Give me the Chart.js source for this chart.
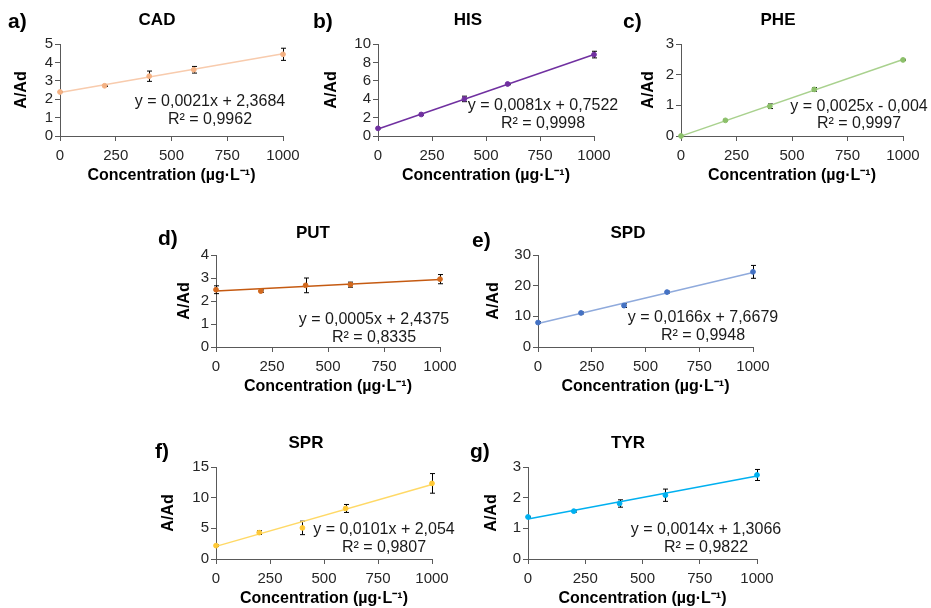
<!DOCTYPE html>
<html>
<head>
<meta charset="utf-8">
<script src="https://cdn.jsdelivr.net/npm/chart.js@4.4.1/dist/chart.umd.min.js"></script>
<style>
html, body { margin: 0; padding: 0; background: #fff; overflow: hidden; }
body { width: 931px; height: 608px; position: relative; }
canvas { position: absolute; }
</style>
</head>
<body>
<script>
// ---------------- 데이터 ---------------- //
// 농도 (µg·L-1)
const conc = [0, 200, 400, 600, 1000];
const xTicks = [0, 250, 500, 750, 1000];

// CAD
const cadY = [2.39, 2.73, 3.25, 3.6, 4.44];
const cadErr = [0.03, 0.04, 0.28, 0.18, 0.33];
const cadFit = [2.368, 4.468];
const cadTicks = [0, 1, 2, 3, 4, 5];
// HIS
const hisY = [0.83, 2.34, 4.03, 5.65, 8.85];
const hisErr = [0.05, 0.08, 0.3, 0.08, 0.36];
const hisFit = [0.752, 8.852];
const hisTicks = [0, 2, 4, 6, 8, 10];
// PHE
const pheY = [0, 0.51, 0.97, 1.52, 2.48];
const pheErr = [0, 0.02, 0.075, 0.06, 0.02];
const pheFit = [-0.004, 2.496];
const pheTicks = [0, 1, 2, 3];
// PUT
const putY = [2.49, 2.43, 2.68, 2.71, 2.95];
const putErr = [0.17, 0.05, 0.32, 0.11, 0.2];
const putFit = [2.438, 2.938];
const putTicks = [0, 1, 2, 3, 4];
// SPD
const spdY = [7.96, 11.1, 13.5, 17.9, 24.5];
const spdErr = [0.3, 0.3, 0.6, 0.3, 2.1];
const spdFit = [7.668, 24.268];
const spdTicks = [0, 10, 20, 30];
// SPR
const sprY = [2.18, 4.3, 5.07, 8.24, 12.33];
const sprErr = [0.1, 0.3, 1.1, 0.65, 1.6];
const sprFit = [2.054, 12.154];
const sprTicks = [0, 5, 10, 15];
// TYR
const tyrY = [1.37, 1.56, 1.81, 2.08, 2.74];
const tyrErr = [0.02, 0.03, 0.12, 0.2, 0.18];
const tyrFit = [1.307, 2.707];
const tyrTicks = [0, 1, 2, 3];

// 추세선 식
const cadEq = ['y = 0,0021x + 2,3684', 'R² = 0,9962'];
const hisEq = ['y = 0,0081x + 0,7522', 'R² = 0,9998'];
const pheEq = ['y = 0,0025x - 0,004', 'R² = 0,9997'];
const putEq = ['y = 0,0005x + 2,4375', 'R² = 0,8335'];
const spdEq = ['y = 0,0166x + 7,6679', 'R² = 0,9948'];
const sprEq = ['y = 0,0101x + 2,054', 'R² = 0,9807'];
const tyrEq = ['y = 0,0014x + 1,3066', 'R² = 0,9822'];

// ---------------- 패널 배치 (페이지 좌표) ---------------- //
// L,R,T,B : 플롯 영역 / tx,ty : 제목 / lx,ly : 라벨 / ex,ey1,ey2 : 식 / yt : y제목 위치
const panels = [
  { lab: 'a)', title: 'CAD', y: cadY, err: cadErr, fit: cadFit, ticks: cadTicks, eq: cadEq,
    line: '#F8CBAD', mark: '#F4B183', L: 60, R: 283, T: 44, B: 136,
    tx: 157, ty: 20, lx: 8, ly: 22, ex: 210, ey1: 102, ey2: 120, yt: 38 },
  { lab: 'b)', title: 'HIS', y: hisY, err: hisErr, fit: hisFit, ticks: hisTicks, eq: hisEq,
    line: '#7030A0', mark: '#7030A0', L: 378, R: 594, T: 44, B: 136,
    tx: 468, ty: 20, lx: 313, ly: 22, ex: 543, ey1: 106, ey2: 124, yt: 46 },
  { lab: 'c)', title: 'PHE', y: pheY, err: pheErr, fit: pheFit, ticks: pheTicks, eq: pheEq,
    line: '#A9D18E', mark: '#8CC06A', L: 681, R: 903, T: 44, B: 136, padR: 28,
    tx: 778, ty: 20, lx: 623, ly: 22, ex: 859, ey1: 107, ey2: 124, yt: 32 },
  { lab: 'd)', title: 'PUT', y: putY, err: putErr, fit: putFit, ticks: putTicks, eq: putEq,
    line: '#C55A11', mark: '#D2691E', L: 216, R: 440, T: 255, B: 347,
    tx: 313, ty: 233, lx: 158, ly: 239, ex: 374, ey1: 320, ey2: 338, yt: 31 },
  { lab: 'e)', title: 'SPD', y: spdY, err: spdErr, fit: spdFit, ticks: spdTicks, eq: spdEq,
    line: '#8FAADC', mark: '#4472C4', L: 538, R: 753, T: 255, B: 347,
    tx: 628, ty: 233, lx: 472, ly: 241, ex: 703, ey1: 318, ey2: 336, yt: 44 },
  { lab: 'f)', title: 'SPR', y: sprY, err: sprErr, fit: sprFit, ticks: sprTicks, eq: sprEq,
    line: '#FFD966', mark: '#FFC936', L: 216, R: 432, T: 467, B: 559,
    tx: 306, ty: 443, lx: 155, ly: 452, ex: 384, ey1: 530, ey2: 548, yt: 47 },
  { lab: 'g)', title: 'TYR', y: tyrY, err: tyrErr, fit: tyrFit, ticks: tyrTicks, eq: tyrEq,
    line: '#00B0F0', mark: '#00B0F0', L: 528, R: 757, T: 467, B: 559,
    tx: 628, ty: 443, lx: 470, ly: 452, ex: 706, ey1: 530, ey2: 548, yt: 36 }
];

const FONT = "'Liberation Sans', Arial, sans-serif";
const AXIS = '#595959';
const YBOX = 68, TOPPAD = 44, XBOX = 49;

// 오차막대
const errorBars = {
  id: 'errorBars',
  beforeDatasetsDraw(chart, args, o) {
    const ctx = chart.ctx, xs = chart.scales.x, ys = chart.scales.y;
    ctx.save();
    ctx.strokeStyle = '#000';
    ctx.lineWidth = 1;
    chart.data.datasets[0].data.forEach((p, i) => {
      const e = o.err[i];
      if (!e) return;
      const x = Math.round(xs.getPixelForValue(p.x)) + 0.5;
      const y1 = ys.getPixelForValue(p.y + e), y2 = ys.getPixelForValue(p.y - e);
      ctx.beginPath();
      ctx.moveTo(x, y1); ctx.lineTo(x, y2);
      ctx.moveTo(x - 2.5, y1); ctx.lineTo(x + 2.5, y1);
      ctx.moveTo(x - 2.5, y2); ctx.lineTo(x + 2.5, y2);
      ctx.stroke();
    });
    ctx.restore();
  }
};

// 제목, 라벨, 추세선 식
const panelText = {
  id: 'panelText',
  afterDraw(chart, args, o) {
    const ctx = chart.ctx, p = o.p;
    const ox = p.L - YBOX, oy = p.T - TOPPAD;
    ctx.save();
    ctx.fillStyle = '#000';
    ctx.textBaseline = 'middle';
    ctx.textAlign = 'center';
    ctx.font = 'bold 17px ' + FONT;
    ctx.fillText(p.title, p.tx - ox, p.ty - oy);
    ctx.textAlign = 'left';
    ctx.font = 'bold 21px ' + FONT;
    ctx.fillText(p.lab, p.lx - ox, p.ly - oy);
    ctx.textAlign = 'center';
    ctx.font = '16px ' + FONT;
    ctx.fillStyle = '#1a1a1a';
    ctx.fillText(p.eq[0], p.ex - ox, p.ey1 - oy);
    ctx.fillText(p.eq[1], p.ex - ox, p.ey2 - oy);
    ctx.restore();
  }
};

panels.forEach(p => {
  const padR = p.padR || 40;
  const cv = document.createElement('canvas');
  const w = p.R - p.L + YBOX + padR, h = p.B - p.T + TOPPAD + XBOX;
  cv.width = w; cv.height = h;
  cv.style.left = (p.L - YBOX) + 'px';
  cv.style.top = (p.T - TOPPAD) + 'px';
  cv.style.width = w + 'px'; cv.style.height = h + 'px';
  document.body.appendChild(cv);

  new Chart(cv, {
    type: 'scatter',
    data: {
      datasets: [
        { // 측정값
          data: conc.map((c, i) => ({ x: c, y: p.y[i] })),
          showLine: false,
          clip: false,
          pointRadius: 2.4,
          pointBackgroundColor: p.mark,
          pointBorderColor: p.mark,
          pointBorderWidth: 1
        },
        { // 추세선
          data: [{ x: conc[0], y: p.fit[0] }, { x: conc[conc.length - 1], y: p.fit[1] }],
          showLine: true,
          clip: false,
          borderColor: p.line,
          borderWidth: 1.5,
          pointRadius: 0
        }
      ]
    },
    options: {
      responsive: false,
      animation: false,
      events: [],
      layout: { padding: { top: TOPPAD, right: padR, left: 0, bottom: 0 } },
      plugins: {
        legend: { display: false },
        tooltip: { enabled: false },
        errorBars: { err: p.err },
        panelText: { p: p }
      },
      scales: {
        x: {
          type: 'linear', min: 0, max: 1000,
          afterBuildTicks: s => { s.ticks = xTicks.map(v => ({ value: v })); },
          afterFit: s => { s.height = XBOX; },
          grid: { drawOnChartArea: false, tickLength: 5, color: AXIS },
          border: { color: AXIS, width: 1 },
          ticks: { padding: 6, autoSkip: false, color: '#262626', font: { family: FONT, size: 15 },
                   callback: v => String(v), maxRotation: 0 },
          title: { display: true, text: 'Concentration (µg·L⁻¹)', color: '#000',
                   font: { family: FONT, size: 16, weight: 'bold' }, padding: { top: 0, bottom: 0 } }
        },
        y: {
          type: 'linear', min: 0, max: p.ticks[p.ticks.length - 1],
          afterBuildTicks: s => { s.ticks = p.ticks.map(v => ({ value: v })); },
          afterFit: s => { s.width = YBOX; },
          grid: { drawOnChartArea: false, tickLength: 5, color: AXIS },
          border: { color: AXIS, width: 1 },
          ticks: { padding: 2, autoSkip: false, color: '#262626', font: { family: FONT, size: 15 },
                   callback: v => String(v) },
          title: { display: true, text: 'A/Ad', color: '#000',
                   font: { family: FONT, size: 16, weight: 'bold' },
                   padding: { top: YBOX - 9.6 - p.yt, bottom: 0 } }
        }
      }
    },
    plugins: [errorBars, panelText]
  });
});
</script>
</body>
</html>
